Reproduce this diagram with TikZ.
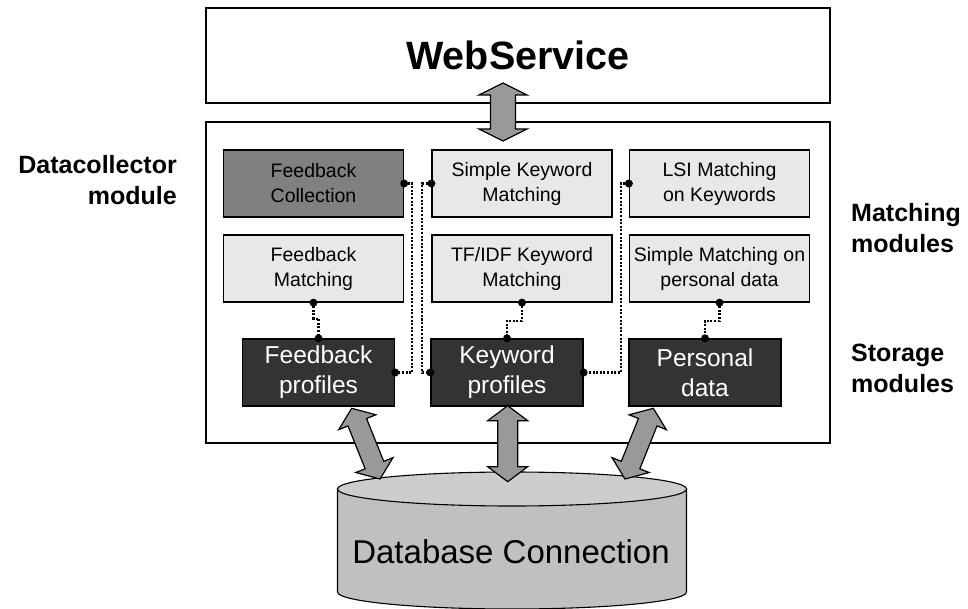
\documentclass[tikz,border=0pt]{standalone}
\usepackage{fontspec}
\setmainfont{Liberation Sans}
\usetikzlibrary{calc}
\definecolor{cfc}{HTML}{808080}
\definecolor{clight}{HTML}{E8E8E8}
\definecolor{cdark}{HTML}{333333}
\definecolor{carrow}{HTML}{999999}
\definecolor{ctop}{HTML}{CDCDCD}
\definecolor{cbody}{HTML}{C0C0C0}
\newcommand{\bigdarrow}[5]{%
  \draw[bigarrow] (#1) -- ($(#1)!#3!(#2)!#4!90:(#2)$) -- ($(#1)!#3!(#2)!#5!90:(#2)$)
    -- ($(#2)!#3!(#1)!#5!-90:(#1)$) -- ($(#2)!#3!(#1)!#4!-90:(#1)$) -- (#2)
    -- ($(#2)!#3!(#1)!#4!90:(#1)$) -- ($(#2)!#3!(#1)!#5!90:(#1)$)
    -- ($(#1)!#3!(#2)!#5!-90:(#2)$) -- ($(#1)!#3!(#2)!#4!-90:(#2)$) -- cycle;}
\tikzset{
  frame/.style={draw=black, line width=2pt, inner sep=0pt},
  lightbox/.style={draw=black, line width=1.3pt, fill=clight, minimum width=180pt,
    minimum height=67pt, inner sep=0pt, align=center, font=\fontsize{19.5}{25}\selectfont},
  darkbox/.style={draw=black, line width=1.3pt, fill=cdark, text=white, minimum width=152pt,
    minimum height=67pt, inner sep=0pt, align=center, font=\fontsize{24.5}{30}\selectfont},
  sidelabel/.style={inner sep=0pt, font=\bfseries\fontsize{25}{31.5}\selectfont},
  dotconn/.style={line width=2.2pt, dash pattern=on 2pt off 1.6pt},
  bigarrow/.style={draw=black, fill=carrow, line width=1.2pt, line join=miter},
  cyl/.style={draw=black, line width=1.1pt}
}
\begin{document}
\begin{tikzpicture}[x=1pt, y=-1pt]
\useasboundingbox (0,0) rectangle (968,609);
% frames
\node[frame, minimum width=624pt, minimum height=95pt, font=\bfseries\fontsize{39.5}{44}\selectfont]
  (ws) at (518,55.5) {\raisebox{-2pt}{WebService}};
\node[frame, minimum width=624pt, minimum height=321pt] (mainbox) at (518,282.5) {};
% side labels
\node[sidelabel, align=right, anchor=east] (dlab) at (177,180) {Datacollector\\module};
\node[sidelabel, align=left, anchor=west] (mlab) at (851,228) {Matching\\modules};
\node[sidelabel, align=left, anchor=west] (slab) at (851,368.5) {Storage\\modules};
% modules
\node[lightbox, fill=cfc] (fc) at (313.5,183.5) {Feedback\\Collection};
\node[lightbox] (skm) at (522,183.5) {Simple Keyword\\Matching};
\node[lightbox] (lsi) at (719.5,183.5) {LSI Matching\\on Keywords};
\node[lightbox] (fm) at (313.5,268.5) {Feedback\\Matching};
\node[lightbox] (tf) at (522,268.5) {TF/IDF Keyword\\Matching};
\node[lightbox] (smp) at (719.5,268.5) {Simple Matching on\\personal data};
\node[darkbox] (fp) at (318.5,372.5) {Feedback\\profiles};
\node[darkbox] (kp) at (507,372.5) {Keyword\\profiles};
\node[darkbox] (pd) at (705,372.5) {Personal\\data};
% dotted connectors
\draw[dotconn] (fc.east) -- ++(8,0) |- (fp.east);
\draw[dotconn] (skm.west) -- ++(-9,0) |- (kp.west);
\draw[dotconn] (lsi.west) -- ++(-8,0) |- (kp.east);
\draw[dotconn] (fm.south) -- ++(0,16) -| (fp.north);
\draw[dotconn] (tf.south) -- ++(0,18) -| (kp.north);
\draw[dotconn] (smp.south) -- ++(0,18) -| (pd.north);
\foreach \p in {fc.east, fp.east, skm.west, kp.west, lsi.west, kp.east,
                fm.south, fp.north, tf.south, kp.north, smp.south, pd.north}
  \fill (\p) circle[radius=4pt];
% database cylinder
\draw[cyl, fill=cbody] (337.5,489) -- (337.5,592)
  arc[start angle=180, end angle=0, x radius=174.5, y radius=17] -- (686.5,489) -- cycle;
\draw[cyl, fill=ctop] (512,489) ellipse [x radius=174.5, y radius=17];
\node[font=\fontsize{33}{40}\selectfont, anchor=base, inner sep=0pt] (db) at (511,563) {Database Connection};
% big arrows
\coordinate (ws1) at (503,83);
\coordinate (ws2) at (503,141);
\bigdarrow{ws1}{ws2}{12pt}{24pt}{12.5pt}
\coordinate (la) at (351.7,408.3);
\coordinate (lb) at (380,479);
\bigdarrow{la}{lb}{15pt}{20pt}{10pt}
\coordinate (ma) at (507.7,405.7);
\coordinate (mb) at (507.7,481.7);
\bigdarrow{ma}{mb}{15pt}{20pt}{10pt}
\coordinate (ra) at (653.3,408.3);
\coordinate (rb) at (625,479);
\bigdarrow{ra}{rb}{15pt}{20pt}{10pt}
\end{tikzpicture}
\end{document}
